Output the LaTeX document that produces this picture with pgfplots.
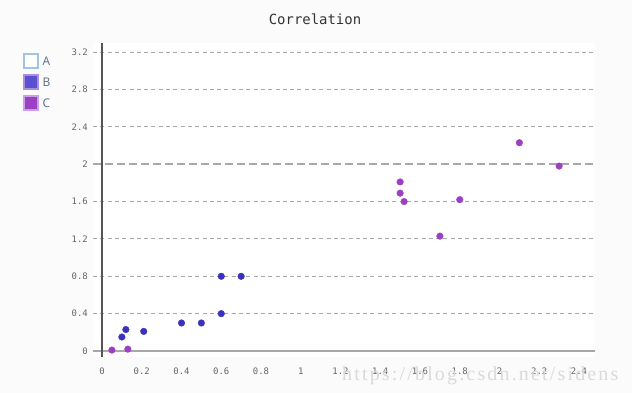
\documentclass[border=0pt]{standalone}
\usepackage{fontspec}
\setmainfont{Open Sans}
\newfontfamily\monofont{DejaVu Sans Mono}
\newfontfamily\wmfont[LetterSpace=11]{Liberation Serif}
\usepackage{pgfplots}
\pgfplotsset{compat=1.18}
\definecolor{bgpage}{HTML}{FBFBFB}
\definecolor{gridc}{HTML}{A8A8A8}
\definecolor{axisc}{HTML}{555555}
\definecolor{tickc}{HTML}{666666}
\definecolor{titlec}{HTML}{333333}
\definecolor{legtext}{HTML}{5A6A88}
\definecolor{cA}{HTML}{9EC5E8}
\definecolor{cBfill}{HTML}{5B50CF}
\definecolor{cBdraw}{HTML}{A890E0}
\definecolor{cBpt}{HTML}{3C30BF}
\definecolor{cCfill}{HTML}{9B3FC4}
\definecolor{cCdraw}{HTML}{C8A0E8}
\definecolor{cCdot}{HTML}{D9A8F0}
\definecolor{cCpt}{HTML}{9C3FC2}
\definecolor{wm}{HTML}{DADADA}
\begin{document}
\begin{tikzpicture}[x=1bp,y=1bp]
\path[use as bounding box, fill=bgpage] (0,0) rectangle (632,393);
\fill[white] (93,36) rectangle (595,350);
\begin{axis}[
  at={(93bp,36bp)}, anchor=south west,
  scale only axis, width=502bp, height=314bp,
  xmin=-0.0453, xmax=2.4805, ymin=-0.0642, ymax=3.2976,
  axis line style={draw=none},
  major tick length=0pt,
  xtick={0,0.2,0.4,0.6,0.8,1,1.2,1.4,1.6,1.8,2,2.2,2.4},
  xticklabels={0,0.2,0.4,0.6,0.8,1,1.2,1.4,1.6,1.8,2,2.2,2.4},
  ytick={0,0.4,0.8,1.2,1.6,2.4,2.8,3.2},
  yticklabels={0,0.4,0.8,1.2,1.6,2.4,2.8,3.2},
  extra y ticks={2}, extra y tick labels={2},
  extra y tick style={grid style={gridc, line width=1.8bp, dash pattern=on 8bp off 4bp}},
  ymajorgrids,
  grid style={gridc, line width=0.9bp, dash pattern=on 4bp off 3.3bp},
  tick label style={font=\monofont\fontsize{9}{10}\selectfont, text=tickc},
  /pgf/number format/assume math mode=true,
  xticklabel style={anchor=base, inner sep=0pt, yshift=-17bp},
  yticklabel style={anchor=east, inner sep=0pt, xshift=-5bp},
  clip=false,
  legend style={at={(rel axis cs:-0.139,0.9674)}, anchor=north west, draw=none, fill=none,
    inner sep=0pt, outer sep=0pt, row sep=5.5bp, column sep=4bp,
    nodes={inner sep=0pt, text depth=0pt},
    font=\fontsize{12}{14}\selectfont, text=legtext},
  legend cell align=left,
]
\draw[gridc, line width=1.8bp] (axis cs:-0.0453,0) -- (axis cs:2.4805,0);
\draw[axisc, line width=1.2bp] (axis cs:0,-0.0642) -- (axis cs:0,3.2976);
\addlegendimage{legend image code/.code={\draw[draw=cA, fill=white, line width=1.5bp] (0bp,-7bp) rectangle (14bp,7bp);}}
\addlegendentry{A}
\addplot[only marks, mark=*, mark size=3.3bp, mark options={draw=cBpt, fill=cBpt},
  legend image code/.code={\draw[draw=cBdraw, fill=cBfill, line width=1.5bp] (0bp,-7bp) rectangle (14bp,7bp);}]
coordinates {(0.10,0.15) (0.12,0.23) (0.21,0.21) (0.4,0.3) (0.5,0.3) (0.6,0.8) (0.7,0.8) (0.6,0.4)};
\addlegendentry{B}
\addplot[only marks, mark=*, mark size=3.3bp, mark options={draw=cCpt, fill=cCpt},
  legend image code/.code={\draw[draw=cCdraw, fill=cCfill, line width=1.5bp] (0bp,-7bp) rectangle (14bp,7bp);}]
coordinates {(0.05,0.01) (0.13,0.02) (1.50,1.81) (1.50,1.69) (1.52,1.60) (1.70,1.23) (1.80,1.62) (2.10,2.23) (2.30,1.98)};
\addlegendentry{C}
\end{axis}
\node[font=\monofont\fontsize{14}{16}\selectfont, text=titlec, inner sep=0pt] at (315,374) {Correlation};
\node[font=\wmfont\fontsize{20}{22}\selectfont, text=wm, inner sep=0pt, anchor=base west] at (342,13) {https://blog.csdn.net/sidens};
\end{tikzpicture}
\end{document}
